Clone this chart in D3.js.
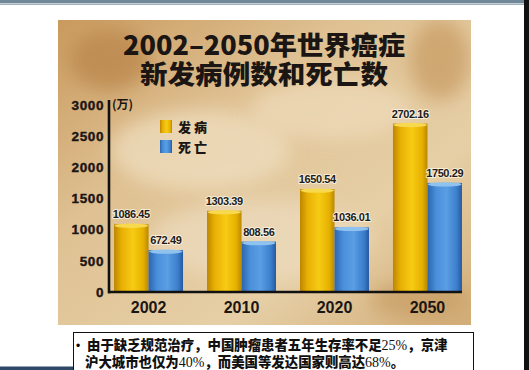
<!DOCTYPE html>
<html>
<head>
<meta charset="utf-8">
<script src="https://cdn.jsdelivr.net/npm/d3@7"></script>
<style>
  html, body { margin: 0; padding: 0; background: #fff; }
  svg { display: block; }
</style>
</head>
<body>
<div id="chart"></div>
<script>
// data (unit: 万)
var years = ["2002", "2010", "2020", "2050"];
var incidence = [1086.45, 1303.39, 1650.54, 2702.16];
var deaths = [672.49, 808.56, 1036.01, 1750.29];
var seriesNames = ["发病", "死亡"];
var yTicks = [0, 500, 1000, 1500, 2000, 2500, 3000];
var titleLines = ["2002–2050年世界癌症", "新发病例数和死亡数"];
var noteLines = [
  ["由于缺乏规范治疗，中国肿瘤患者五年生存率不足", "25%", "，京津"],
  ["沪大城市也仅为", "40%", "，而美国等发达国家则高达", "68%", "。"]
];

var width = 529, height = 370;
var cjk = "'Noto Sans CJK SC', 'Noto Sans', sans-serif";
var latin = "'Liberation Sans', Arial, sans-serif";

var svg = d3.select("#chart").append("svg")
    .attr("width", width)
    .attr("height", height)
    .attr("viewBox", `0 0 ${width} ${height}`);

var defs = svg.append("defs");

// parchment look
var paper = defs.append("linearGradient").attr("id", "paper")
    .attr("x1", 0).attr("y1", 0).attr("x2", 1).attr("y2", 1);
paper.append("stop").attr("offset", "0%").attr("stop-color", "#c99a5e");
paper.append("stop").attr("offset", "35%").attr("stop-color", "#dfc193");
paper.append("stop").attr("offset", "70%").attr("stop-color", "#e6cfa6");
paper.append("stop").attr("offset", "100%").attr("stop-color", "#d2ad78");

defs.append("filter").attr("id", "soft")
    .attr("x", "-50%").attr("y", "-50%").attr("width", "200%").attr("height", "200%")
  .append("feGaussianBlur").attr("stdDeviation", 9);

function barGradient(id, stops) {
  var g = defs.append("linearGradient").attr("id", id)
      .attr("x1", 0).attr("y1", 0).attr("x2", 1).attr("y2", 0);
  stops.forEach(function(s) {
    g.append("stop").attr("offset", s[0]).attr("stop-color", s[1]);
  });
}
barGradient("gold", [["0%", "#bd8600"], ["22%", "#e8b004"], ["55%", "#f7cb14"], ["85%", "#e5b000"], ["100%", "#b88700"]]);
barGradient("blue", [["0%", "#2b65ad"], ["25%", "#4a8fda"], ["55%", "#5a9ee4"], ["85%", "#3c7ecb"], ["100%", "#2659a0"]]);
var fills = ["url(#gold)", "url(#blue)"];
var capFills = ["#f8d84e", "#8fc2ef"];

// slide chrome
svg.append("rect").attr("x", 0).attr("y", 0).attr("width", 524).attr("height", 3.4).attr("fill", "#6f8797");
svg.append("rect").attr("x", 0).attr("y", 4).attr("width", 524).attr("height", 0.8).attr("fill", "#8a9eab");
svg.append("rect").attr("x", 524).attr("y", 0).attr("width", 5).attr("height", height).attr("fill", "#111");

// poster
svg.append("clipPath").attr("id", "posterClip")
  .append("rect").attr("x", 58).attr("y", 20).attr("width", 413).attr("height", 305);
var poster = svg.append("g").attr("clip-path", "url(#posterClip)");
poster.append("rect").attr("x", 58).attr("y", 20).attr("width", 413).attr("height", 305).attr("fill", "url(#paper)");
var blotches = [[200, 150, 90, 40, "#f0e0c2"], [330, 110, 80, 30, "#efdcbc"], [260, 240, 110, 40, "#eddcbf"],
                [110, 60, 40, 30, "#b88448"], [440, 60, 30, 40, "#c79a60"], [420, 300, 50, 20, "#c89d64"]];
poster.selectAll("ellipse.blot").data(blotches).enter().append("ellipse")
    .attr("class", "blot")
    .attr("cx", function(d) { return d[0]; })
    .attr("cy", function(d) { return d[1]; })
    .attr("rx", function(d) { return d[2]; })
    .attr("ry", function(d) { return d[3]; })
    .attr("fill", function(d) { return d[4]; })
    .attr("opacity", 0.7)
    .attr("filter", "url(#soft)");

// title, both lines in one text element
var title = svg.append("text")
    .attr("text-anchor", "middle")
    .style("font-family", cjk)
    .style("font-weight", 900)
    .style("font-size", "26px")
    .style("fill", "#1b1613");
title.selectAll("tspan").data(titleLines).enter().append("tspan")
    .attr("x", 264)
    .attr("y", function(d, i) { return i === 0 ? 55 : 84; })
    .attr("textLength", function(d, i) { return i === 0 ? 282 : 248; })
    .attr("lengthAdjust", "spacingAndGlyphs")
    .text(function(d) { return d; });

// scales
var y = d3.scaleLinear().domain([0, 3000]).range([292, 105]);
var x0 = d3.scaleBand().domain(years).range([108, 468]).paddingInner(0.258).paddingOuter(0.065);
var x1 = d3.scaleBand().domain([0, 1]).range([0, x0.bandwidth()]);

// bars
var groups = svg.selectAll("g.year").data(years).enter().append("g")
    .attr("class", "year")
    .attr("transform", function(d) { return `translate(${x0(d)},0)`; });

var bars = groups.selectAll("g.bar").data(function(d, i) {
    return [{ s: 0, v: incidence[i] }, { s: 1, v: deaths[i] }];
  }).enter().append("g").attr("class", "bar");

bars.append("rect")
    .attr("x", function(d) { return x1(d.s); })
    .attr("y", function(d) { return y(d.v); })
    .attr("width", x1.bandwidth())
    .attr("height", function(d) { return y(0) - y(d.v); })
    .attr("fill", function(d) { return fills[d.s]; });

bars.append("ellipse")
    .attr("cx", function(d) { return x1(d.s) + x1.bandwidth() / 2; })
    .attr("cy", function(d) { return y(d.v) + 1.5; })
    .attr("rx", x1.bandwidth() / 2 - 0.5)
    .attr("ry", 2.2)
    .attr("fill", function(d) { return capFills[d.s]; });

bars.append("text")
    .attr("x", function(d) { return x1(d.s) + x1.bandwidth() / 2; })
    .attr("y", function(d) { return y(d.v) - 6; })
    .attr("text-anchor", "middle")
    .style("font-family", latin)
    .style("font-weight", "bold")
    .style("font-size", "11px")
    .style("letter-spacing", "-0.4px")
    .style("fill", "#1c1c1c")
    .style("stroke", "rgba(255,248,230,0.75)")
    .style("stroke-width", "2px")
    .style("paint-order", "stroke")
    .text(function(d) { return d.v.toFixed(2); });

// axes
var yAxis = svg.append("g")
    .attr("transform", "translate(108,0)")
    .call(d3.axisLeft(y).tickValues(yTicks).tickSize(0).tickPadding(4).tickFormat(d3.format("d")));
yAxis.select(".domain").remove();
yAxis.selectAll("text")
    .style("font-family", latin)
    .style("font-weight", "bold")
    .style("font-size", "13.5px")
    .style("letter-spacing", "0.6px")
    .style("fill", "#1b1613")
    .style("stroke", "#1b1613")
    .style("stroke-width", "0.4px");

var xAxis = svg.append("g")
    .attr("transform", `translate(0,${y(0)})`)
    .call(d3.axisBottom(x0).tickSize(0).tickPadding(10));
xAxis.select(".domain").remove();
xAxis.selectAll("text")
    .style("font-family", latin)
    .style("font-weight", "bold")
    .style("font-size", "16px")
    .style("fill", "#1b1613");

var lastYear = years[years.length - 1];
svg.append("line")
    .attr("x1", 108).attr("x2", x0(lastYear) + x0.bandwidth())
    .attr("y1", y(0)).attr("y2", y(0))
    .style("stroke", "#111").style("stroke-width", 2.6);
svg.append("line")
    .attr("x1", 109).attr("x2", 109)
    .attr("y1", y(3000) - 5).attr("y2", y(0) + 1.3)
    .style("stroke", "#111").style("stroke-width", 2.6);

svg.append("text")
    .attr("x", 112).attr("y", 109)
    .style("font-family", cjk)
    .style("font-weight", "bold")
    .style("font-size", "12px")
    .style("fill", "#1b1613")
    .text("(万)");

// legend
var legend = svg.selectAll("g.legend").data(seriesNames).enter().append("g")
    .attr("class", "legend")
    .attr("transform", function(d, i) { return `translate(160,${120 + i * 20})`; });
legend.append("rect")
    .attr("width", 12).attr("height", 13)
    .attr("fill", function(d, i) { return fills[i]; });
legend.append("text")
    .attr("x", 18).attr("y", 11.5)
    .style("font-family", cjk)
    .style("font-weight", 900)
    .style("font-size", "13px")
    .style("letter-spacing", "3px")
    .style("fill", "#1b1613")
    .text(function(d) { return d; });

// note box below the poster
svg.append("rect").attr("x", 0).attr("y", 366.5).attr("width", 74).attr("height", 3.5).attr("fill", "#2f4a68");
svg.append("rect")
    .attr("x", 73.5).attr("y", 332.5).attr("width", 400).attr("height", 45)
    .attr("fill", "#fff").attr("stroke", "#111").attr("stroke-width", 1);
svg.append("text")
    .attr("x", 76).attr("y", 350)
    .style("font-family", latin)
    .style("font-size", "12px")
    .text("•");

// both note lines in one text element, one tspan run per piece
var note = svg.append("text")
    .style("font-family", cjk)
    .style("font-weight", 900)
    .style("font-size", "13.4px")
    .style("fill", "#111");
noteLines.forEach(function(line, i) {
  note.selectAll(null).data(line).enter().append("tspan")
      .attr("x", function(d, j) { return j === 0 ? (i === 0 ? 87 : 85) : null; })
      .attr("y", function(d, j) { return j === 0 ? (i === 0 ? 350 : 367) : null; })
      .style("font-family", function(d) { return /%/.test(d) ? "'Liberation Serif', serif" : null; })
      .style("font-weight", function(d) { return /%/.test(d) ? "normal" : null; })
      .style("font-size", function(d) { return /%/.test(d) ? "14px" : null; })
      .text(function(d) { return d; });
});
</script>
</body>
</html>
